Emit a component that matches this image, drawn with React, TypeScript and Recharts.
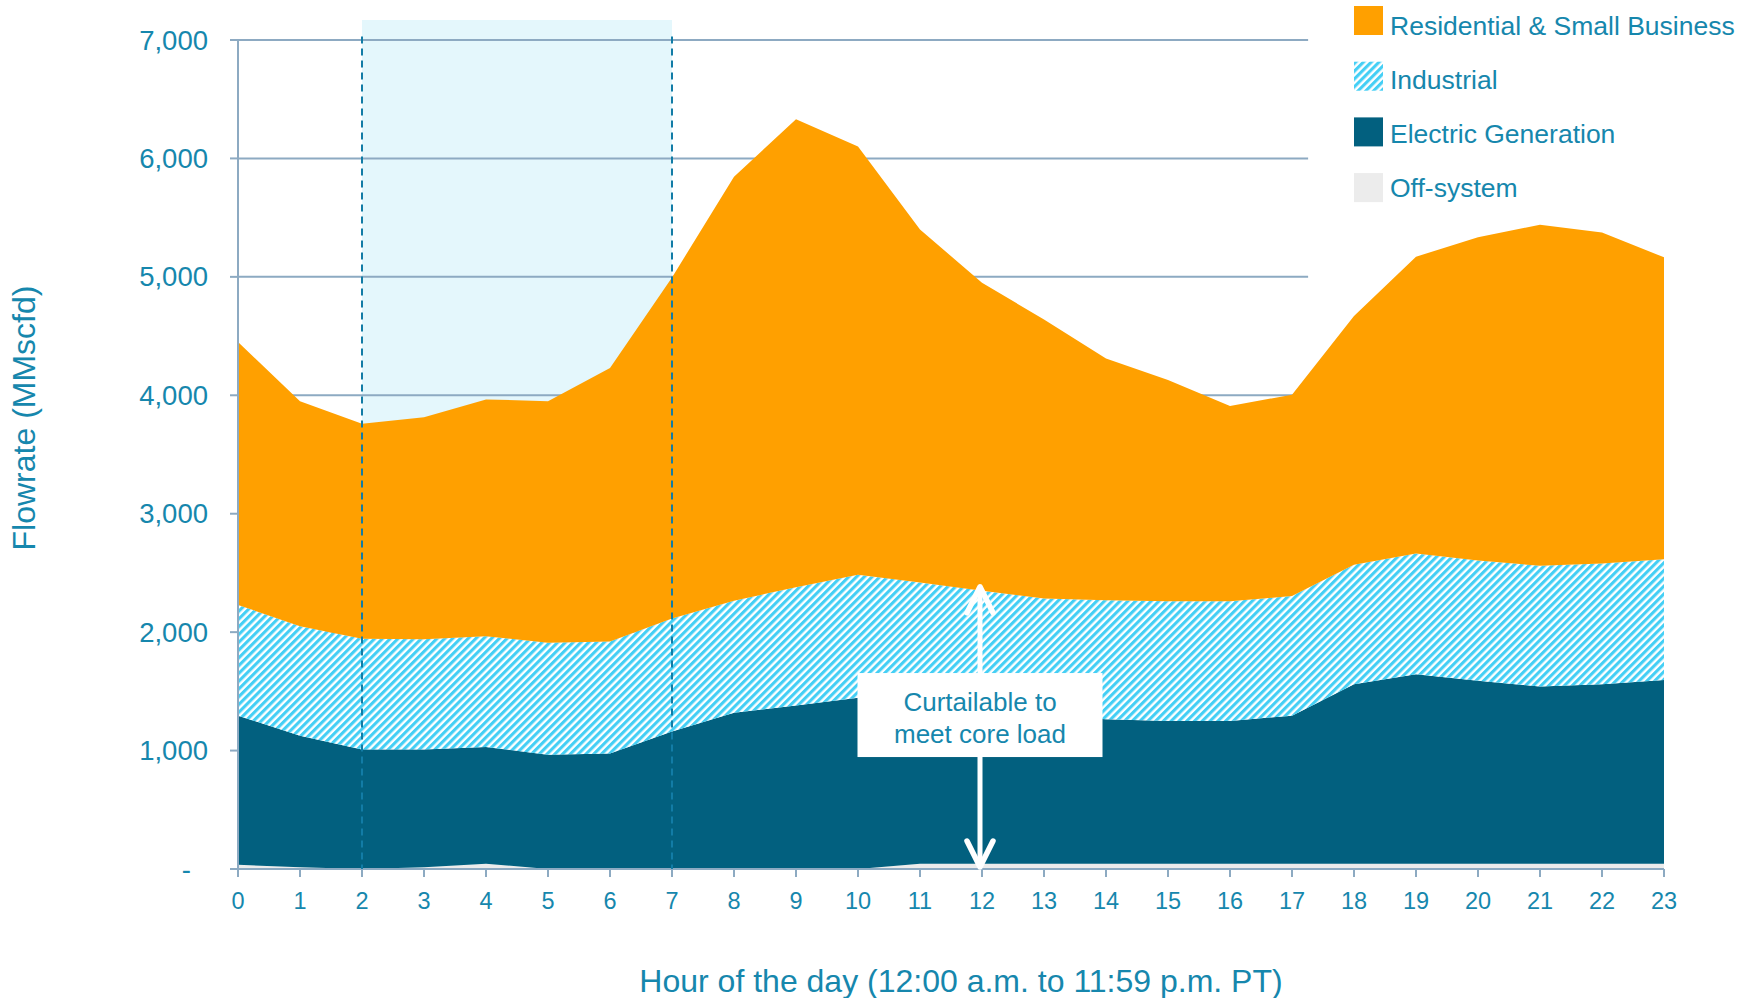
import React from "react";
import {
  ComposedChart,
  Area,
  XAxis,
  YAxis,
  ReferenceLine,
  ReferenceArea,
  ReferenceDot,
} from "recharts";

// ---------- data ----------
const HOURS = [0, 1, 2, 3, 4, 5, 6, 7, 8, 9, 10, 11, 12, 13, 14, 15, 16, 17, 18, 19, 20, 21, 22, 23];
const OFF_SYSTEM = [35, 15, 0, 15, 45, 0, 0, 0, 0, 0, 0, 45, 45, 45, 45, 45, 45, 45, 45, 45, 45, 45, 45, 45];
const ELECTRIC = [1260, 1110, 1010, 995, 985, 965, 975, 1160, 1320, 1380, 1445, 1340, 1285, 1250, 1220, 1205, 1205, 1250, 1515, 1600, 1545, 1495, 1515, 1550];
const INDUSTRIAL = [935, 925, 935, 930, 935, 945, 945, 955, 945, 1000, 1040, 1035, 1020, 990, 1005, 1010, 1010, 1010, 1010, 1020, 1015, 1020, 1020, 1020];
const RESIDENTIAL = [2220, 1900, 1815, 1875, 2000, 2040, 2310, 2880, 3580, 3950, 3615, 2980, 2600, 2355, 2040, 1870, 1650, 1700, 2100, 2505, 2730, 2880, 2795, 2550];

const Y_TICKS = [0, 1000, 2000, 3000, 4000, 5000, 6000, 7000];
const GRID_END_HOUR = 17.26;
const BAND = { from: 2, to: 7, top: 7169, dashTop: 7030 };
const ANNOTATION = { hour: 12, arrowTop: 2400, labelAt: 1300, lines: ["Curtailable to", "meet core load"] };

const SERIES_LABELS = ["Residential & Small Business", "Industrial", "Electric Generation", "Off-system"];
const Y_TITLE = "Flowrate (MMscfd)";
const X_TITLE = "Hour of the day (12:00 a.m. to 11:59 p.m. PT)";

// ---------- style ----------
const TEXT = "#1687AD";
const AXIS = "#8DAAC2";
const ORANGE = "#FFA000";
const DARK = "#02607F";
const OFFC = "#ECECEC";
const HATCH = "#44CFF5";
const FONT = "'Liberation Sans', Arial, sans-serif";

const data = HOURS.map((h, i) => ({
  hour: h,
  off: OFF_SYSTEM[i],
  electric: ELECTRIC[i],
  industrial: INDUSTRIAL[i],
  residential: RESIDENTIAL[i],
}));

const YTick = (props: any) => {
  const { x, y, payload } = props;
  const v = payload.value as number;
  return (
    <text
      x={v === 0 ? x - 17 : x}
      y={y}
      dy={9.5}
      textAnchor="end"
      fontSize={27.5}
      fontFamily={FONT}
      fill={TEXT}
    >
      {v === 0 ? "-" : v.toLocaleString("en-US")}
    </text>
  );
};

const ArrowShape = (props: any) => {
  const { x1, y1, y2 } = props;
  const top = Math.min(y1, y2);
  const bot = Math.max(y1, y2);
  const x = x1 - 2;
  return (
    <g>
      <line x1={x} x2={x} y1={top + 3} y2={bot - 3} stroke="#fff" strokeWidth={5} />
      <polyline
        points={`${x - 13},${top + 28} ${x},${top + 2} ${x + 13},${top + 28}`}
        fill="none"
        stroke="#fff"
        strokeWidth={5.5}
        strokeLinecap="round"
        strokeLinejoin="round"
      />
      <polyline
        points={`${x - 13},${bot - 28} ${x},${bot - 2} ${x + 13},${bot - 28}`}
        fill="none"
        stroke="#fff"
        strokeWidth={5.5}
        strokeLinecap="round"
        strokeLinejoin="round"
      />
    </g>
  );
};

const LabelBox = (props: any) => {
  const { cx, cy } = props;
  const w = 245;
  const h = 84;
  const c = cx - 2;
  return (
    <g>
      <rect x={c - w / 2} y={cy - h / 2} width={w} height={h} fill="#fff" />
      <text x={c} y={cy - 4} textAnchor="middle" fontSize={26} fontFamily={FONT} fill={TEXT}>
        {ANNOTATION.lines[0]}
      </text>
      <text x={c} y={cy + 28} textAnchor="middle" fontSize={26} fontFamily={FONT} fill={TEXT}>
        {ANNOTATION.lines[1]}
      </text>
    </g>
  );
};

const LEGEND_FILLS = [ORANGE, "url(#hatchFill)", DARK, OFFC];

export default function App() {
  return (
    <div style={{ position: "relative", width: 1752, height: 998, overflow: "hidden", background: "#fff" }}>
      <style>{`html,body{margin:0;padding:0;overflow:hidden;background:#fff}`}</style>
      <svg width={0} height={0} style={{ position: "absolute" }}>
        <defs>
          <pattern
            id="hatchFill"
            patternUnits="userSpaceOnUse"
            width={5.5}
            height={5.5}
            patternTransform="rotate(45)"
          >
            <rect width={5.5} height={5.5} fill="#fff" />
            <rect width={3.1} height={5.5} fill={HATCH} />
          </pattern>
        </defs>
      </svg>
      <ComposedChart
        width={1752}
        height={998}
        data={data}
        margin={{ top: 40, right: 88, bottom: 89, left: 0 }}
      >
        <ReferenceArea
          x1={BAND.from}
          x2={BAND.to}
          y1={0}
          y2={BAND.top}
          fill="#E4F7FC"
          fillOpacity={1}
          stroke="none"
          ifOverflow="visible"
          zIndex={-200}
        />
        {Y_TICKS.filter((t) => t > 0).map((t) => (
          <ReferenceLine
            key={t}
            segment={[
              { x: 0, y: t },
              { x: GRID_END_HOUR, y: t },
            ]}
            stroke={AXIS}
            strokeWidth={2}
            ifOverflow="visible"
            zIndex={-150}
          />
        ))}
        <XAxis
          dataKey="hour"
          type="number"
          domain={[0, 23]}
          ticks={HOURS}
          interval={0}
          height={40}
          tickSize={8}
          tickMargin={15}
          axisLine={{ stroke: AXIS, strokeWidth: 2 }}
          tickLine={{ stroke: AXIS, strokeWidth: 2 }}
          tick={{ fill: TEXT, fontSize: 23.5, fontFamily: FONT }}
        />
        <YAxis
          type="number"
          domain={[0, 7000]}
          ticks={Y_TICKS}
          interval={0}
          width={238}
          tickSize={8}
          tickMargin={22}
          axisLine={{ stroke: AXIS, strokeWidth: 2 }}
          tickLine={{ stroke: AXIS, strokeWidth: 2 }}
          tick={<YTick />}
        />
        <Area
          type="linear"
          dataKey="off"
          stackId="s"
          fill={OFFC}
          fillOpacity={1}
          stroke="none"
          isAnimationActive={false}
          dot={false}
          activeDot={false}
        />
        <Area
          type="linear"
          dataKey="electric"
          stackId="s"
          fill={DARK}
          fillOpacity={1}
          stroke="none"
          isAnimationActive={false}
          dot={false}
          activeDot={false}
        />
        <Area
          type="linear"
          dataKey="industrial"
          stackId="s"
          fill="url(#hatchFill)"
          fillOpacity={1}
          stroke="none"
          isAnimationActive={false}
          dot={false}
          activeDot={false}
        />
        <Area
          type="linear"
          dataKey="residential"
          stackId="s"
          fill={ORANGE}
          fillOpacity={1}
          stroke="none"
          isAnimationActive={false}
          dot={false}
          activeDot={false}
        />
        {[BAND.from, BAND.to].map((h) => (
          <ReferenceLine
            key={"d" + h}
            segment={[
              { x: h, y: BAND.dashTop },
              { x: h, y: 0 },
            ]}
            stroke="#127CA6"
            strokeWidth={2}
            strokeDasharray="7 5"
            ifOverflow="visible"
            zIndex={500}
          />
        ))}
        <ReferenceLine
          segment={[
            { x: ANNOTATION.hour, y: 0 },
            { x: ANNOTATION.hour, y: ANNOTATION.arrowTop },
          ]}
          shape={<ArrowShape />}
          ifOverflow="visible"
          zIndex={600}
        />
        <ReferenceDot
          x={ANNOTATION.hour}
          y={ANNOTATION.labelAt}
          shape={<LabelBox />}
          ifOverflow="visible"
          zIndex={700}
        />
      </ComposedChart>
      <svg
        width={1752}
        height={998}
        style={{ position: "absolute", left: 0, top: 0, pointerEvents: "none" }}
      >
        <text
          transform="translate(35,418) rotate(-90)"
          textAnchor="middle"
          fontSize={32}
          fontFamily={FONT}
          fill={TEXT}
        >
          {Y_TITLE}
        </text>
        <text x={961} y={992} textAnchor="middle" fontSize={32} fontFamily={FONT} fill={TEXT}>
          {X_TITLE}
        </text>
        {SERIES_LABELS.map((label, i) => (
          <g key={label}>
            <rect x={1354} y={6 + i * 55.7} width={29} height={29} fill={LEGEND_FILLS[i]} />
            <text x={1390} y={35 + i * 54} fontSize={26.5} fontFamily={FONT} fill={TEXT}>
              {label}
            </text>
          </g>
        ))}
      </svg>
    </div>
  );
}
